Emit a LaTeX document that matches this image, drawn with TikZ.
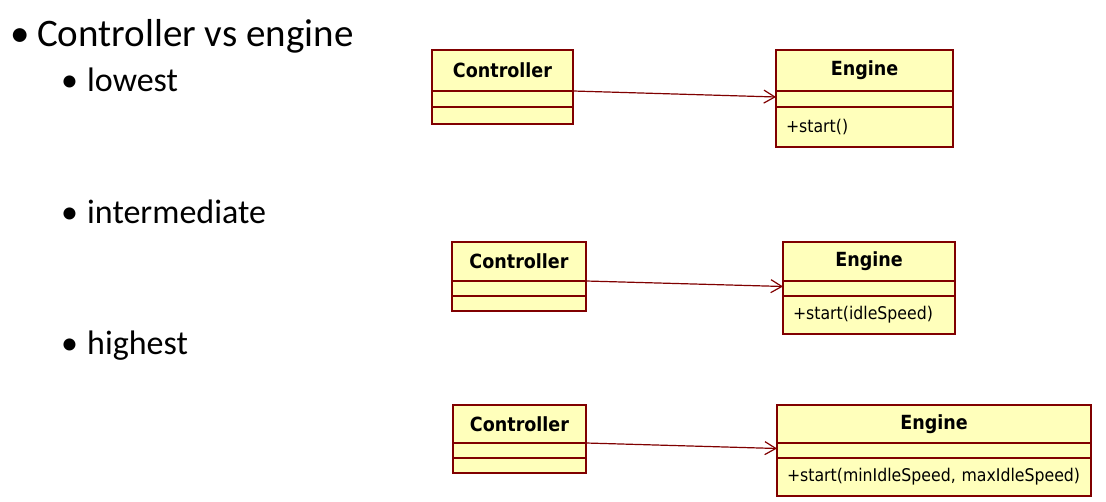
\documentclass[tikz,border=0pt]{standalone}
\usepackage{fontspec}
\setmainfont{Carlito}
\newfontfamily\umlfamily{DejaVu Sans Condensed}
\usetikzlibrary{positioning,arrows.meta}

\definecolor{umlred}{RGB}{128,0,0}
\definecolor{umlfill}{RGB}{255,255,187}

\tikzset{
  classname/.style={draw=umlred, fill=umlfill, line width=1.2pt, inner sep=0pt, outer sep=0pt,
    font=\umlfamily\bfseries\fontsize{19.5}{22}\selectfont},
  compart/.style={draw=umlred, fill=umlfill, line width=1.2pt, inner xsep=10pt, inner ysep=0pt,
    outer sep=0pt, align=left, font=\umlfamily\fontsize{17.5}{20}\selectfont},
  assoc/.style={-{Straight Barb[length=11pt,width=13pt]}, umlred, line width=1.2pt},
  level1/.style={anchor=base west, inner sep=0pt, font=\fontsize{39}{44}\selectfont},
  level2/.style={anchor=base west, inner sep=0pt, font=\fontsize{34}{40}\selectfont},
}

\begin{document}
\begin{tikzpicture}[x=1pt,y=-1pt]
  \useasboundingbox (0,0) rectangle (1106,502);

  % bullet text
  \node[level1] (topic) at (10,47) {\makebox[27pt][l]{•}Controller vs engine};
  \node[level2] (lowest) at (61,92) {\makebox[26pt][l]{•}lowest};
  \node[level2] (intermediate) at (61,224) {\makebox[26pt][l]{•}intermediate};
  \node[level2] (highest) at (61,355) {\makebox[26pt][l]{•}highest};

  % lowest
  \node[classname, anchor=north west, minimum width=141pt, minimum height=41pt] (c1name) at (432,50) {Controller};
  \node[compart, below=0pt of c1name, minimum width=141pt, minimum height=16pt] (c1attr) {};
  \node[compart, below=0pt of c1attr, minimum width=141pt, minimum height=17pt] (c1op) {};

  \node[classname, anchor=north west, minimum width=177pt, minimum height=41pt] (e1name) at (776,50) {Engine};
  \node[compart, below=0pt of e1name, minimum width=177pt, minimum height=16pt] (e1attr) {};
  \node[compart, below=0pt of e1attr, text width=157pt, minimum height=40pt] (e1op) {+start()};

  \draw[assoc] (c1name.south east) -- ([yshift=2pt]e1attr.west);

  % intermediate
  \node[classname, anchor=north west, minimum width=134pt, minimum height=39pt] (c2name) at (452,242) {Controller};
  \node[compart, below=0pt of c2name, minimum width=134pt, minimum height=15pt] (c2attr) {};
  \node[compart, below=0pt of c2attr, minimum width=134pt, minimum height=15pt] (c2op) {};

  \node[classname, anchor=north west, minimum width=172pt, minimum height=39pt] (e2name) at (783,242) {Engine};
  \node[compart, below=0pt of e2name, minimum width=172pt, minimum height=15pt] (e2attr) {};
  \node[compart, below=0pt of e2attr, text width=152pt, minimum height=38pt] (e2op) {\mbox{+start(idleSpeed)}};

  \draw[assoc] (c2name.south east) -- ([yshift=2pt]e2attr.west);

  % highest
  \node[classname, anchor=north west, minimum width=133pt, minimum height=38pt] (c3name) at (453,405) {Controller};
  \node[compart, below=0pt of c3name, minimum width=133pt, minimum height=15pt] (c3attr) {};
  \node[compart, below=0pt of c3attr, minimum width=133pt, minimum height=15pt] (c3op) {};

  \node[classname, anchor=north west, minimum width=314pt, minimum height=38pt] (e3name) at (777,405) {Engine};
  \node[compart, below=0pt of e3name, minimum width=314pt, minimum height=15pt] (e3attr) {};
  \node[compart, below=0pt of e3attr, text width=294pt, minimum height=38pt] (e3op) {\mbox{+start(minIdleSpeed, maxIdleSpeed)}};

  \draw[assoc] (c3name.south east) -- ([yshift=2pt]e3attr.west);
\end{tikzpicture}
\end{document}
